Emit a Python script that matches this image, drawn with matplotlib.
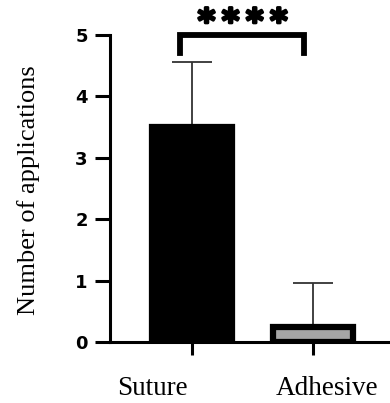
import matplotlib
matplotlib.use("Agg")
import matplotlib.pyplot as plt
import matplotlib.patheffects as pe
import numpy as np

groups = ["Suture", "Adhesive"]
means = [3.5, 0.24]
sd_upper = [1.06, 0.72]
bar_colors = ["black", "#a6a6a6"]
y_ticks = [0, 1, 2, 3, 4, 5]
signif = "*\u2009*\u2009*\u2009*"

fig = plt.figure(figsize=(3.9, 4.03), dpi=100)
ax = fig.add_axes([0.282, 0.1514, 0.718, 0.7618])

x = np.arange(len(groups))
ax.bar(x, means, width=0.66, color=bar_colors, edgecolor="black", linewidth=4.5, zorder=2)
ax.errorbar(x, means, yerr=[[0, 0], sd_upper], fmt="none", ecolor="#333333",
            elinewidth=1.3, capsize=14.4, capthick=1.3, zorder=1)

ax.set_xlim(-0.68, 1.64)
ax.set_ylim(0, 5)
ax.set_yticks(y_ticks)
ax.set_yticklabels([str(t) for t in y_ticks], fontweight="bold", fontsize=13,
                   family="DejaVu Sans")
ax.set_xticks(x)
ax.set_xticklabels([])
ax.tick_params(axis="y", length=11, width=2.2, pad=5)
ax.tick_params(axis="x", length=9, width=2.2, direction="out")
for s in ["top", "right"]:
    ax.spines[s].set_visible(False)
for s in ["left", "bottom"]:
    ax.spines[s].set_linewidth(2.2)

# category labels sit a bit off the ticks in the original
label_x = [-0.33, 1.12]
for lx, name in zip(label_x, groups):
    ax.text(lx, -0.75, name, ha="center", va="center",
            family="Liberation Serif", fontsize=19.5)

ax.set_ylabel("Number of applications", family="Liberation Serif", fontsize=19)
ax.yaxis.set_label_coords(-0.25, 0.495)

# significance bracket
ax.plot([-0.1, -0.1, 0.93, 0.93], [4.7, 5.0, 5.0, 4.7], color="black", lw=4.2,
        solid_joinstyle="miter", clip_on=False)
ax.text(0.42, 5.2, signif, ha="center", va="center", fontsize=24, fontweight="bold",
        family="DejaVu Sans",
        path_effects=[pe.withStroke(linewidth=2, foreground="black")])

fig.savefig("out.png", dpi=100)
